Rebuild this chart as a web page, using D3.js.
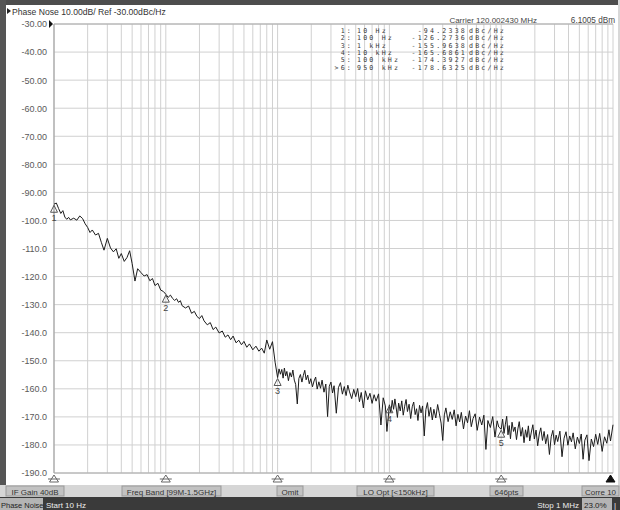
<!DOCTYPE html>
<html>
<head>
<meta charset="utf-8">
<script src="https://cdn.jsdelivr.net/npm/d3@7"></script>
<style>
  body { margin: 0; background: #fff; }
  svg { display: block; font-family: "Liberation Sans", Arial, sans-serif; }
</style>
</head>
<body>
<script>
// sweep points (Hz, dBc/Hz)
const freqHz = [
  10, 10.5, 11, 11.5, 12, 12.5, 13, 13.5, 14, 15, 16, 17, 18, 19, 20, 21, 22, 23.5, 25, 26.5, 28,
  30, 32, 34, 36, 38, 40, 42.5, 45, 47.5, 50, 53, 56, 60, 64, 68, 72, 76, 80, 85, 90, 95,
  100, 105, 110, 115, 120, 125, 130, 135, 140, 150, 160, 170, 180, 190, 200, 210, 220, 235, 250, 265, 280,
  300, 320, 340, 360, 380, 400, 425, 450, 475, 500, 530, 560, 600, 640, 680, 720, 760, 800, 850, 900, 950,
  1000, 1030, 1060, 1090, 1120, 1150, 1180, 1210, 1250, 1290, 1330, 1370, 1410, 1450, 1500, 1550,
  1600, 1650, 1700, 1750, 1800, 1860, 1920, 1980, 2050, 2120, 2190, 2260, 2340, 2420, 2500, 2600,
  2700, 2800, 2900, 3000, 3100, 3200, 3350, 3500, 3650, 3800, 3950, 4100, 4250, 4400, 4600, 4800,
  5000, 5200, 5400, 5600, 5850, 6100, 6400, 6700, 7000, 7300, 7600, 8000, 8400, 8800, 9200, 9500,
  10000, 10300, 10600, 10900, 11200, 11500, 11800, 12100, 12500, 12900, 13300, 13700, 14100, 14500, 15000, 15500,
  16000, 16500, 17000, 17500, 18000, 18600, 19200, 19800, 20500, 21200, 21900, 22600, 23400, 24200, 25000, 26000,
  27000, 28000, 29000, 30000, 31000, 32000, 33500, 35000, 36500, 38000, 39500, 41000, 42500, 44000, 46000, 48000,
  50000, 52000, 54000, 56000, 58500, 61000, 64000, 67000, 70000, 73000, 76000, 80000, 84000, 88000, 92000, 95000,
  100000, 103000, 106000, 109000, 112000, 115000, 118000, 121000, 125000, 129000, 133000, 137000, 141000, 145000, 150000, 155000,
  160000, 165000, 170000, 175000, 180000, 186000, 192000, 198000, 205000, 212000, 219000, 226000, 234000, 242000, 250000, 260000,
  270000, 280000, 290000, 300000, 310000, 320000, 335000, 350000, 365000, 380000, 395000, 410000, 425000, 440000, 460000, 480000,
  500000, 520000, 540000, 560000, 585000, 610000, 640000, 670000, 700000, 730000, 760000, 800000, 840000, 880000, 920000, 950000,
  1000000
];
const noiseDbc = [
  -94.2, -93.8, -95.8, -97.5, -96.5, -98.8, -99.6, -98.9, -99.8, -99.2, -99.9, -98.4, -99.3, -101.2, -102.5, -104.3, -103.4, -105.2, -104.6, -107.8, -110.6,
  -106.4, -109.8, -111.2, -110.1, -113.5, -111.8, -114.6, -113.2, -110.8, -115.4, -121.6, -117.2, -118.6, -119.8, -119.3, -121.5, -120.7, -123.2, -122.4, -124.8, -125.3,
  -126.3, -127.4, -126.6, -127.8, -128.5, -127.9, -129.2, -128.6, -130.4, -131.2, -130.5, -133.1, -132.4, -134.2, -135.0, -133.9, -135.8, -137.2, -136.4, -138.9, -138.0,
  -140.1, -139.4, -141.6, -140.8, -142.5, -141.2, -143.6, -142.7, -144.3, -143.1, -145.2, -144.0, -146.1, -144.8, -146.6, -145.5, -147.3, -142.6, -145.9, -143.2, -150.5,
  -156.0, -152.9, -154.8, -153.1, -156.2, -152.6, -155.4, -153.8, -157.1, -154.2, -155.8, -153.3, -156.9, -158.4, -165.4, -156.3,
  -154.9, -157.6, -155.2, -153.4, -156.8, -155.1, -158.2, -156.4, -159.3, -157.2, -155.8, -160.1, -157.5, -159.8, -156.9, -161.2,
  -158.3, -169.9, -159.1, -157.6, -161.5, -158.9, -168.7, -159.6, -157.8, -161.9, -159.2, -162.4, -158.7, -161.1, -163.5, -160.2,
  -162.8, -159.9, -164.6, -161.3, -166.8, -160.7, -163.9, -161.6, -165.2, -162.1, -164.4, -161.8, -172.9, -163.2, -166.1, -175.2,
  -165.7, -168.4, -164.1, -167.3, -163.6, -166.8, -170.2, -165.1, -167.9, -164.3, -169.4, -166.2, -163.8, -168.1, -165.5, -170.6,
  -166.4, -164.7, -169.2, -167.1, -171.3, -165.9, -168.6, -166.1, -176.8, -167.4, -164.9, -169.8, -166.6, -171.1, -167.3, -170.4,
  -165.6, -168.9, -172.2, -178.4, -169.3, -166.8, -171.7, -168.2, -170.9, -167.5, -173.2, -169.1, -171.8, -168.4, -174.3, -169.7,
  -172.1, -167.8, -173.5, -170.6, -168.9, -174.8, -170.1, -172.9, -169.4, -181.6, -171.3, -173.8, -169.9, -177.2, -171.4, -173.6,
  -174.4, -170.8, -175.9, -172.6, -169.8, -176.4, -173.1, -177.8, -171.9, -175.2, -173.6, -178.1, -174.3, -171.7, -176.9, -173.8,
  -179.2, -174.6, -177.3, -173.2, -178.6, -175.4, -172.8, -177.9, -174.7, -180.3, -176.1, -173.9, -178.4, -175.2, -179.6, -176.3,
  -183.4, -177.1, -174.8, -179.9, -176.5, -178.8, -175.1, -184.2, -177.6, -175.3, -180.1, -176.8, -178.9, -175.7, -181.4, -177.2,
  -179.5, -176.1, -185.1, -178.3, -176.4, -185.6, -177.9, -180.6, -176.2, -179.8, -175.9, -182.3, -177.1, -179.4, -174.6, -178.6,
  -172.8
];

const markerNo = ["1", "2", "3", "4", "5", "6"];
const markerFreq = [10, 100, 1000, 10000, 100000, 950000];
const markerFreqText = ["10 Hz", "100 Hz", "1 kHz", "10 kHz", "100 kHz", "950 kHz"];
const markerDbc = [-94.2338, -126.2736, -155.9638, -165.6861, -174.3927, -178.6325];
const activeMarker = 5;

const yTicks = [-30, -40, -50, -60, -70, -80, -90, -100, -110, -120, -130, -140, -150, -160, -170, -180, -190];
const statusItems = ["IF Gain 40dB", "Freq Band [99M-1.5GHz]", "Omit", "LO Opt [<150kHz]", "646pts", "Corre 10"];

const W = 620, H = 510;
const svg = d3.select("body").append("svg").attr("width", W).attr("height", H);

const x = d3.scaleLog().domain([10, 1e6]).range([54, 613]);
const y = d3.scaleLinear().domain([-190, -30]).range([473, 24]);

// window frame
svg.append("rect").attr("width", W).attr("height", H).attr("fill", "#fff");
svg.append("rect").attr("x", 0).attr("y", 0).attr("width", W).attr("height", 5).attr("fill", "#4d4d4d");
svg.append("rect").attr("x", 0).attr("y", 0).attr("width", 6).attr("height", 485).attr("fill", "#555");
svg.append("rect").attr("x", 618).attr("y", 0).attr("width", 2).attr("height", 485).attr("fill", "#d8d8d8");

// grid
svg.append("g").selectAll("line").data(x.ticks()).join("line")
  .attr("x1", d => x(d)).attr("x2", d => x(d))
  .attr("y1", y(-30)).attr("y2", y(-190))
  .attr("stroke", "#d0d0d0");
svg.append("g").selectAll("line").data(yTicks).join("line")
  .attr("x1", x(10)).attr("x2", x(1e6))
  .attr("y1", d => y(d)).attr("y2", d => y(d))
  .attr("stroke", "#d0d0d0");
svg.append("line").attr("x1", x(10)).attr("x2", x(10)).attr("y1", y(-30)).attr("y2", y(-190)).attr("stroke", "#999");
svg.append("line").attr("x1", x(10)).attr("x2", x(1e6)).attr("y1", y(-30)).attr("y2", y(-30)).attr("stroke", "#aaa");
svg.append("line").attr("x1", x(10)).attr("x2", x(1e6)).attr("y1", y(-190)).attr("y2", y(-190)).attr("stroke", "#aaa");

// y axis labels
const yAxis = svg.append("g").attr("transform", `translate(${x(10) - 7},0)`)
  .call(d3.axisLeft(y).tickValues(yTicks).tickSize(0).tickPadding(0)
    .tickFormat(d => d >= -90 ? d.toFixed(2) : d.toFixed(1)));
yAxis.select(".domain").remove();
yAxis.selectAll("text").attr("fill", "#5a5a5a").attr("font-size", 9).attr("font-family", "Liberation Sans, Arial, sans-serif");

// reference level pointer
svg.append("path")
  .attr("d", `M${x(10) - 5},${y(-30) - 4}L${x(10) - 1},${y(-30)}L${x(10) - 5},${y(-30) + 4}Z`)
  .attr("fill", "#111");

// header
svg.append("path").attr("d", "M7,8L11,11L7,14Z").attr("fill", "#222");
svg.append("text").attr("x", 12).attr("y", 14.5).attr("font-size", 8.6).attr("fill", "#333")
  .text("Phase Nose 10.00dB/ Ref -30.00dBc/Hz");
svg.append("text").attr("x", 537).attr("y", 23).attr("font-size", 8).attr("fill", "#444")
  .attr("text-anchor", "end").text("Carrier 120.002430 MHz");
svg.append("text").attr("x", 615).attr("y", 23).attr("font-size", 8.2).attr("fill", "#444")
  .attr("text-anchor", "end").text("6.1005 dBm");

// marker table
const table = svg.append("g").attr("font-family", "DejaVu Sans Mono, Liberation Mono, monospace")
  .attr("font-size", 6.6).attr("letter-spacing", 2.2).attr("fill", "#3a3a3a");
const rows = table.selectAll("g").data(markerNo).join("g")
  .attr("transform", (d, i) => `translate(0,${33 + i * 7.3})`);
rows.append("text").attr("x", 353).attr("text-anchor", "end")
  .text((d, i) => (i === activeMarker ? ">" : "") + d + ":");
rows.append("text").attr("x", 357).text((d, i) => markerFreqText[i]);
rows.append("text").attr("x", 467).attr("text-anchor", "end").text((d, i) => markerDbc[i].toFixed(4));
rows.append("text").attr("x", 469).text("dBc/Hz");

// trace
const line = d3.line().x(d => x(d[0])).y(d => y(d[1]));
svg.append("path").datum(d3.zip(freqHz, noiseDbc))
  .attr("d", line).attr("fill", "none").attr("stroke", "#1c1c1c").attr("stroke-width", 1);

// markers on trace
const mk = svg.append("g").selectAll("g").data(markerNo.slice(0, 5)).join("g")
  .attr("transform", (d, i) => `translate(${x(markerFreq[i])},${y(markerDbc[i])})`);
mk.append("path").attr("d", "M0,1L3.5,8L-3.5,8Z").attr("fill", "none").attr("stroke", "#555");
mk.append("text").attr("y", 17).attr("text-anchor", "middle").attr("font-size", 9).attr("fill", "#444")
  .text(d => d);

// marker positions along the x axis
const bm = svg.append("g").selectAll("g").data(markerNo).join("g")
  .attr("transform", (d, i) => `translate(${x(markerFreq[i])},${y(-190) + 1})`);
bm.append("path")
  .attr("d", "M0,1L4.5,8L-4.5,8Z")
  .attr("fill", (d, i) => i === activeMarker ? "#111" : "none")
  .attr("stroke", (d, i) => i === activeMarker ? "#111" : "#666");
bm.filter((d, i) => i !== activeMarker).append("line")
  .attr("x1", -6).attr("x2", 6).attr("y1", 5).attr("y2", 5).attr("stroke", "#666");

// status bar
svg.append("rect").attr("x", 0).attr("y", 485).attr("width", W).attr("height", 12).attr("fill", "#d6d6d6");
const statusBox = [[6, 58], [122, 99], [277, 26], [357, 77], [490, 33], [582, 37]];
const sb = svg.append("g").selectAll("g").data(statusItems).join("g")
  .attr("transform", (d, i) => `translate(${statusBox[i][0]},486)`);
sb.append("rect").attr("width", (d, i) => statusBox[i][1]).attr("height", 10)
  .attr("fill", "#c2c2c2").attr("stroke", "#999");
sb.append("text").attr("x", (d, i) => statusBox[i][1] / 2).attr("y", 8.5).attr("text-anchor", "middle")
  .attr("font-size", 8).attr("fill", "#333").text(d => d);

// bottom bar
svg.append("rect").attr("x", 0).attr("y", 497).attr("width", W).attr("height", 13).attr("fill", "#3a3a3a");
svg.append("rect").attr("x", 0).attr("y", 498).attr("width", 43).attr("height", 12).attr("fill", "#b4b4b4");
svg.append("text").attr("x", 1).attr("y", 507.5).attr("font-size", 7.5).attr("fill", "#222").text("Phase Noise");
svg.append("text").attr("x", 46).attr("y", 507.5).attr("font-size", 8).attr("fill", "#eee").text("Start 10 Hz");
svg.append("text").attr("x", 579).attr("y", 507.5).attr("font-size", 8).attr("fill", "#eee")
  .attr("text-anchor", "end").text("Stop 1 MHz");
svg.append("rect").attr("x", 582).attr("y", 498).attr("width", 30).attr("height", 12).attr("fill", "#b4b4b4");
svg.append("text").attr("x", 584).attr("y", 507.5).attr("font-size", 8).attr("fill", "#222").text("23.0%");
svg.append("text").attr("x", 614).attr("y", 507.5).attr("font-size", 8).attr("fill", "#eee").text("|");
</script>
</body>
</html>
